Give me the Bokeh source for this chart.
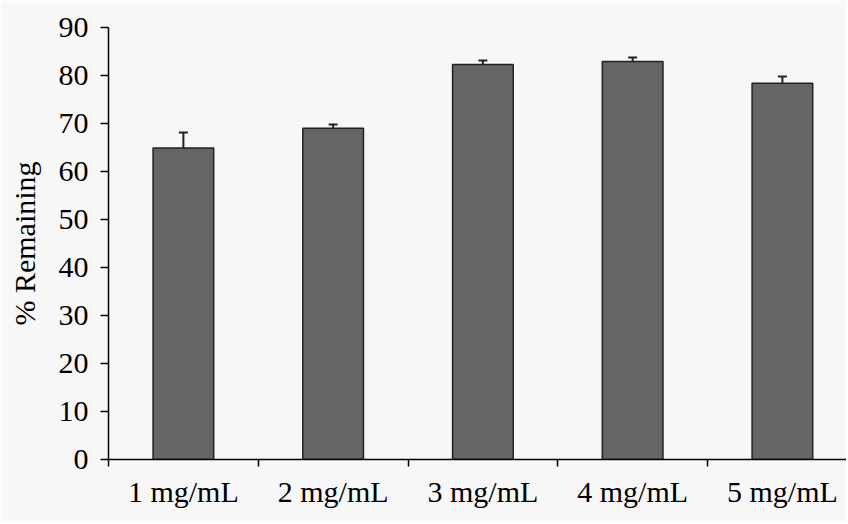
from bokeh.plotting import figure
from bokeh.models import Range1d, FixedTicker, ColumnDataSource, Whisker, TeeHead
from bokeh.embed import file_html
from bokeh.resources import INLINE

categories = ["1 mg/mL", "2 mg/mL", "3 mg/mL", "4 mg/mL", "5 mg/mL"]
remaining = [64.9, 69.0, 82.3, 82.9, 78.4]
errors = [3.2, 0.8, 0.8, 0.85, 1.4]
y_ticks = [0, 10, 20, 30, 40, 50, 60, 70, 80, 90]

centers = [i + 0.5 for i in range(len(categories))]
src = ColumnDataSource(dict(
    x=centers,
    top=remaining,
    upper=[v + e for v, e in zip(remaining, errors)],
))

FONT = "Liberation Serif"
BG = "#f7f7f7"

p = figure(width=846, height=522, output_backend="svg", toolbar_location=None,
           x_range=Range1d(0, 4.928), y_range=Range1d(0, 90),
           min_border_left=108, min_border_right=0, min_border_top=27,
           min_border_bottom=63)
p.frame_width = 738
p.frame_height = 432
p.background_fill_color = BG
p.border_fill_color = BG
p.outline_line_color = None
p.grid.visible = False

p.vbar(x="x", top="top", bottom=0, width=0.405, source=src,
       fill_color="#656565", line_color="#222222", line_width=1.5)

w = Whisker(base="x", upper="upper", lower="top", source=src,
            line_color="#222222", line_width=2,
            upper_head=TeeHead(size=9, line_color="#222222", line_width=2),
            lower_head=None)
p.add_layout(w)

# x axis: labels at centres, tick marks at category boundaries
xa = p.xaxis[0]
xa.ticker = FixedTicker(ticks=centers, minor_ticks=list(range(len(categories))))
xa.major_label_overrides = {c: lab for c, lab in zip(centers, categories)}
xa.major_tick_out = 0
xa.major_tick_in = 0
xa.minor_tick_out = 7
xa.minor_tick_in = 0
xa.minor_tick_line_color = "black"
xa.minor_tick_line_width = 1.5
xa.axis_line_color = "black"
xa.axis_line_width = 1.5
xa.major_label_text_font = FONT
xa.major_label_text_font_size = "30px"
xa.major_label_text_color = "black"
xa.major_label_standoff = 8

ya = p.yaxis[0]
ya.ticker = FixedTicker(ticks=y_ticks)
ya.minor_tick_line_color = None
ya.major_tick_out = 8
ya.major_tick_in = 0
ya.major_tick_line_color = "black"
ya.major_tick_line_width = 1.5
ya.axis_line_color = "black"
ya.axis_line_width = 1.5
ya.major_label_text_font = FONT
ya.major_label_text_font_size = "30px"
ya.major_label_text_color = "black"
ya.major_label_standoff = 12
ya.axis_label = "% Remaining"
ya.axis_label_text_font = FONT
ya.axis_label_text_font_size = "30px"
ya.axis_label_text_font_style = "normal"
ya.axis_label_text_color = "black"
ya.axis_label_standoff = 15

open("out.html", "w").write(file_html(p, INLINE))
